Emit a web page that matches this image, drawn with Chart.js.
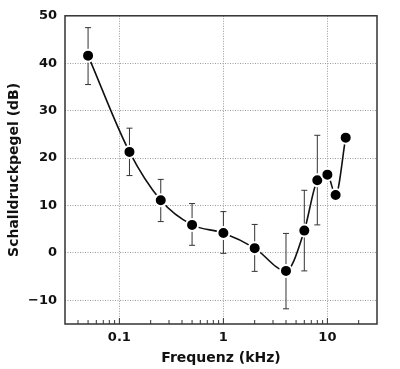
<!DOCTYPE html>
<html>
<head>
<meta charset="utf-8">
<script src="https://cdn.jsdelivr.net/npm/chart.js@4/dist/chart.umd.min.js"></script>
<style>
  html, body { margin: 0; padding: 0; background: #fff; }
  #wrap { width: 400px; height: 369px; }
</style>
</head>
<body>
<div id="wrap"><canvas id="chart" width="400" height="369"></canvas></div>
<script>
const freqs = [0.05, 0.125, 0.25, 0.5, 1, 2, 4, 6, 8, 10, 12, 15];
const levels = [41.6, 21.3, 11.1, 5.9, 4.2, 1.0, -3.8, 4.7, 15.3, 16.5, 12.2, 24.3];
const errLow = [35.5, 16.3, 6.6, 1.6, -0.1, -3.9, -11.8, -3.8, 5.9, null, null, null];
const errHigh = [47.5, 26.3, 15.5, 10.4, 8.7, 6.0, 4.1, 13.2, 24.8, null, null, null];

const xTicks = [0.04, 0.05, 0.06, 0.07, 0.08, 0.09, 0.1, 0.2, 0.3, 0.4, 0.5, 0.6, 0.7, 0.8, 0.9,
                1, 2, 3, 4, 5, 6, 7, 8, 9, 10, 20];
const xLabels = [0.1, 1, 10];
const yTicks = [-10, 0, 10, 20, 30, 40, 50];

const FONT = "'DejaVu Sans', sans-serif";
const isMajor = v => xLabels.some(m => Math.abs(m - v) < 1e-9);

// error bars go under the points
const errorBars = {
    id: 'errorBars',
    beforeDatasetsDraw(chart) {
        const { ctx, scales: { x, y } } = chart;
        ctx.save();
        ctx.strokeStyle = '#333';
        ctx.lineWidth = 1;
        freqs.forEach((f, i) => {
            if (errLow[i] == null) return;
            const px = x.getPixelForValue(f);
            const yl = y.getPixelForValue(errLow[i]);
            const yh = y.getPixelForValue(errHigh[i]);
            ctx.beginPath();
            ctx.moveTo(px, yl); ctx.lineTo(px, yh);
            ctx.moveTo(px - 3, yl); ctx.lineTo(px + 3, yl);
            ctx.moveTo(px - 3, yh); ctx.lineTo(px + 3, yh);
            ctx.stroke();
        });
        ctx.restore();
    },
};

// box around plot + small inward ticks on the bottom axis
const frame = {
    id: 'frame',
    afterDraw(chart) {
        const { ctx, chartArea: a, scales: { x } } = chart;
        ctx.save();
        ctx.strokeStyle = '#333';
        ctx.lineWidth = 1.5;
        ctx.strokeRect(a.left, a.top, a.right - a.left, a.bottom - a.top);
        ctx.lineWidth = 1;
        xTicks.forEach(v => {
            const px = x.getPixelForValue(v);
            ctx.beginPath();
            ctx.moveTo(px, a.bottom);
            ctx.lineTo(px, a.bottom - (isMajor(v) ? 6 : 4));
            ctx.stroke();
        });
        ctx.restore();
    },
};

new Chart(document.getElementById('chart'), {
    type: 'line',
    data: {
        datasets: [{
            data: freqs.map((f, i) => ({ x: f, y: levels[i] })),
            borderColor: '#111',
            borderWidth: 1.6,
            cubicInterpolationMode: 'monotone',
            pointRadius: 6,
            pointBackgroundColor: '#000',
            pointBorderColor: '#fff',
            pointBorderWidth: 2,
            fill: false,
        }],
    },
    options: {
        responsive: false,
        animation: false,
        layout: { padding: { top: 10, right: 23, left: 0, bottom: 0 } },
        plugins: { legend: { display: false }, tooltip: { enabled: false } },
        scales: {
            x: {
                type: 'logarithmic',
                min: 0.03,
                max: 30,
                afterBuildTicks: s => { s.ticks = xTicks.map(v => ({ value: v })); },
                afterFit: s => { s.height = 45; },
                ticks: {
                    autoSkip: false,
                    maxRotation: 0,
                    padding: 6,
                    color: '#111',
                    font: { family: FONT, size: 13, weight: 'bold' },
                    callback: v => (isMajor(v) ? String(v) : ''),
                },
                grid: {
                    drawTicks: false,
                    color: c => (c.tick && isMajor(c.tick.value) ? '#9a9a9a' : 'rgba(0,0,0,0)'),
                    lineWidth: 1,
                },
                border: { display: false, dash: [1, 1.5] },
                title: {
                    display: true,
                    text: 'Frequenz (kHz)',
                    color: '#111',
                    font: { family: FONT, size: 14, weight: 'bold' },
                    padding: { top: 0, bottom: 2 },
                },
            },
            y: {
                min: -15,
                max: 50,
                afterBuildTicks: s => { s.ticks = yTicks.map(v => ({ value: v })); },
                afterFit: s => { s.width = 65; },
                ticks: {
                    padding: 8,
                    color: '#111',
                    font: { family: FONT, size: 13, weight: 'bold' },
                    callback: v => (v < 0 ? '\u2212' + Math.abs(v) : String(v)),
                },
                grid: { drawTicks: false, color: '#9a9a9a', lineWidth: 1 },
                border: { display: false, dash: [1, 1.5] },
                title: {
                    display: true,
                    text: 'Schalldruckpegel (dB)',
                    color: '#111',
                    font: { family: FONT, size: 14, weight: 'bold' },
                    padding: { top: 6, bottom: 0 },
                },
            },
        },
    },
    plugins: [errorBars, frame],
});
</script>
</body>
</html>
